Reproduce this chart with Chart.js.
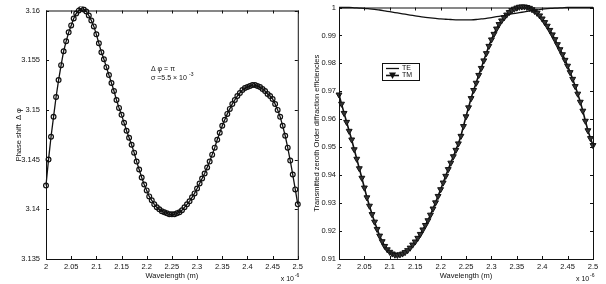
<!DOCTYPE html>
<html>
<head>
<meta charset="utf-8">
<script src="https://cdn.jsdelivr.net/npm/chart.js@4.4.0/dist/chart.umd.min.js"></script>
<style>
  html, body { margin: 0; padding: 0; background: #fff; }
  #wrap { position: relative; width: 606px; height: 284px; overflow: hidden; }
  canvas { position: absolute; top: 0; }
  #phaseChart { left: 0; }
  #effChart { left: 303px; }
</style>
</head>
<body>
<div id="wrap">
  <canvas id="phaseChart" width="306" height="284"></canvas>
  <canvas id="effChart" width="303" height="284"></canvas>
</div>
<script>
/* ===== data (wavelength in units of 1e-6 m) ===== */
const wavelength = [
  2.000, 2.005, 2.010, 2.015, 2.020, 2.025, 2.030, 2.035, 2.040, 2.045,
  2.050, 2.055, 2.060, 2.065, 2.070, 2.075, 2.080, 2.085, 2.090, 2.095,
  2.100, 2.105, 2.110, 2.115, 2.120, 2.125, 2.130, 2.135, 2.140, 2.145,
  2.150, 2.155, 2.160, 2.165, 2.170, 2.175, 2.180, 2.185, 2.190, 2.195,
  2.200, 2.205, 2.210, 2.215, 2.220, 2.225, 2.230, 2.235, 2.240, 2.245,
  2.250, 2.255, 2.260, 2.265, 2.270, 2.275, 2.280, 2.285, 2.290, 2.295,
  2.300, 2.305, 2.310, 2.315, 2.320, 2.325, 2.330, 2.335, 2.340, 2.345,
  2.350, 2.355, 2.360, 2.365, 2.370, 2.375, 2.380, 2.385, 2.390, 2.395,
  2.400, 2.405, 2.410, 2.415, 2.420, 2.425, 2.430, 2.435, 2.440, 2.445,
  2.450, 2.455, 2.460, 2.465, 2.470, 2.475, 2.480, 2.485, 2.490, 2.495,
  2.500
];

const phaseShift = [
  3.1424, 3.1450, 3.1473, 3.1493, 3.1513, 3.1530, 3.1545, 3.1559, 3.1569, 3.1578,
  3.1585, 3.1592, 3.1597, 3.1600, 3.1602, 3.1601, 3.1599, 3.1595, 3.1590, 3.1584,
  3.1576, 3.1567, 3.1558, 3.1551, 3.1543, 3.1535, 3.1527, 3.1519, 3.1510, 3.1502,
  3.1495, 3.1487, 3.1479, 3.1472, 3.1465, 3.1457, 3.1448, 3.1440, 3.1432, 3.1425,
  3.1419, 3.1413, 3.1409, 3.1405, 3.1402, 3.1400, 3.1398, 3.1397, 3.1396, 3.1395,
  3.1395, 3.1395, 3.1396, 3.1397, 3.1399, 3.1402, 3.1405, 3.1408, 3.1412, 3.1416,
  3.1421, 3.1426, 3.1431, 3.1436, 3.1442, 3.1448, 3.1455, 3.1462, 3.1470, 3.1477,
  3.1484, 3.1490, 3.1496, 3.1501, 3.1506, 3.1510, 3.1514, 3.1517, 3.1520, 3.1522,
  3.1523, 3.1524, 3.1525, 3.1525, 3.1524, 3.1523, 3.1521, 3.1519, 3.1516, 3.1514,
  3.1511, 3.1506, 3.1500, 3.1493, 3.1484, 3.1474, 3.1462, 3.1449, 3.1435, 3.1420,
  3.1405
];

const effTM = [
  0.9688, 0.9655, 0.9622, 0.9590, 0.9558, 0.9527, 0.9492, 0.9458, 0.9424, 0.9390,
  0.9355, 0.9320, 0.9290, 0.9260, 0.9233, 0.9207, 0.9183, 0.9163, 0.9146, 0.9134,
  0.9125, 0.9119, 0.9115, 0.9114, 0.9116, 0.9119, 0.9124, 0.9131, 0.9140, 0.9151,
  0.9162, 0.9175, 0.9189, 0.9205, 0.9221, 0.9238, 0.9258, 0.9280, 0.9302, 0.9325,
  0.9349, 0.9373, 0.9397, 0.9421, 0.9444, 0.9467, 0.9490, 0.9513, 0.9540, 0.9575,
  0.9610, 0.9642, 0.9675, 0.9704, 0.9730, 0.9758, 0.9783, 0.9810, 0.9836, 0.9862,
  0.9885, 0.9905, 0.9924, 0.9940, 0.9953, 0.9964, 0.9974, 0.9983, 0.9990, 0.9995,
  0.9999, 1.0002, 1.0003, 1.0003, 1.0001, 0.9998, 0.9993, 0.9987, 0.9980, 0.9971,
  0.9960, 0.9947, 0.9934, 0.9919, 0.9903, 0.9886, 0.9868, 0.9850, 0.9832, 0.9812,
  0.9791, 0.9768, 0.9744, 0.9718, 0.9691, 0.9662, 0.9630, 0.9594, 0.9560, 0.9532,
  0.9507
];

const wavelengthTE = [
  2.00, 2.01, 2.02, 2.03, 2.04, 2.05, 2.06, 2.07, 2.08, 2.09,
  2.10, 2.11, 2.12, 2.13, 2.14, 2.15, 2.16, 2.17, 2.18, 2.19,
  2.20, 2.21, 2.22, 2.23, 2.24, 2.25, 2.26, 2.27, 2.28, 2.29,
  2.30, 2.31, 2.32, 2.33, 2.34, 2.35, 2.36, 2.37, 2.38, 2.39,
  2.40, 2.41, 2.42, 2.43, 2.44, 2.45, 2.46, 2.47, 2.48, 2.49,
  2.50
];

const effTE = [
  1.0000, 1.0000, 1.0000, 0.9999, 0.9998, 0.9997, 0.9995, 0.9993, 0.9991, 0.9988,
  0.9985, 0.9982, 0.9979, 0.9976, 0.9973, 0.9970, 0.9967, 0.9965, 0.9963, 0.9961,
  0.9959, 0.9958, 0.9957, 0.9956, 0.9956, 0.9956, 0.9956, 0.9957, 0.9959, 0.9961,
  0.9964, 0.9967, 0.9970, 0.9973, 0.9977, 0.9980, 0.9983, 0.9986, 0.9989, 0.9991,
  0.9994, 0.9996, 0.9997, 0.9998, 0.9999, 1.0000, 1.0000, 1.0000, 1.0000, 1.0000,
  1.0000
];

const waveTicks = [2, 2.05, 2.1, 2.15, 2.2, 2.25, 2.3, 2.35, 2.4, 2.45, 2.5];
const phaseTicks = [3.135, 3.14, 3.145, 3.15, 3.155, 3.16];
const effTicks = [0.91, 0.92, 0.93, 0.94, 0.95, 0.96, 0.97, 0.98, 0.99, 1];

/* ===== shared bits ===== */
const FONT = "'Liberation Sans', Arial, sans-serif";
const INK = '#111';
const fmt = v => String(parseFloat(v.toFixed(4)));

// MATLAB style box with inward ticks on all four sides
const matlabFrame = {
  id: 'matlabFrame',
  afterDatasetsDraw(chart) {
    const {ctx, chartArea: a, scales} = chart;
    ctx.save();
    ctx.strokeStyle = INK;
    ctx.lineWidth = 1;
    ctx.strokeRect(a.left + 0.5, a.top + 0.5, a.right - a.left, a.bottom - a.top);
    ctx.beginPath();
    scales.x.ticks.forEach(t => {
      const px = Math.round(scales.x.getPixelForValue(t.value)) + 0.5;
      ctx.moveTo(px, a.bottom); ctx.lineTo(px, a.bottom - 3);
      ctx.moveTo(px, a.top); ctx.lineTo(px, a.top + 3);
    });
    scales.y.ticks.forEach(t => {
      const py = Math.round(scales.y.getPixelForValue(t.value)) + 0.5;
      ctx.moveTo(a.left, py); ctx.lineTo(a.left + 3, py);
      ctx.moveTo(a.right, py); ctx.lineTo(a.right - 3, py);
    });
    ctx.stroke();

    // exponent under the x axis
    ctx.fillStyle = INK;
    ctx.textBaseline = 'alphabetic';
    ctx.textAlign = 'left';
    ctx.font = `7px ${FONT}`;
    const ex = a.right - 17;
    ctx.fillText('x 10', ex, 281);
    ctx.font = `5px ${FONT}`;
    ctx.fillText('-6', ex + 14, 277);
    ctx.restore();
  }
};

function xScale() {
  return {
    type: 'linear',
    min: 2,
    max: 2.5,
    afterBuildTicks: s => { s.ticks = waveTicks.map(v => ({value: v})); },
    afterFit: s => { s.height = 25; },
    grid: {display: false, drawTicks: false},
    border: {display: false},
    ticks: {
      color: INK,
      font: {family: FONT, size: 7.5},
      padding: 3,
      maxRotation: 0,
      autoSkip: false,
      callback: v => fmt(v)
    },
    title: {
      display: true,
      text: 'Wavelength (m)',
      color: INK,
      font: {family: FONT, size: 7.5},
      padding: {top: 0, bottom: 4}
    }
  };
}

function yScale(min, max, ticks, width, pad, title, titlePad) {
  return {
    type: 'linear',
    min: min,
    max: max,
    afterBuildTicks: s => { s.ticks = ticks.map(v => ({value: v})); },
    afterFit: s => { s.width = width; },
    grid: {display: false, drawTicks: false},
    border: {display: false},
    ticks: {
      color: INK,
      font: {family: FONT, size: 7.5},
      padding: pad,
      autoSkip: false,
      callback: v => fmt(v)
    },
    title: {
      display: true,
      text: title,
      color: INK,
      font: {family: FONT, size: 7.5},
      padding: {top: titlePad, bottom: 0}
    }
  };
}

/* ===== left: phase shift ===== */
const phaseNote = {
  id: 'phaseNote',
  afterDraw(chart) {
    const ctx = chart.ctx;
    ctx.save();
    ctx.fillStyle = INK;
    ctx.textAlign = 'left';
    ctx.textBaseline = 'alphabetic';
    ctx.font = `7px ${FONT}`;
    ctx.fillText('\u0394 \u03c6 = \u03c0', 151, 71);
    ctx.fillText('\u03c3 =5.5 \u00d7 10', 151, 80);
    ctx.font = `5px ${FONT}`;
    ctx.fillText('-3', 189, 76);
    ctx.restore();
  }
};

new Chart(document.getElementById('phaseChart'), {
  type: 'line',
  data: {
    datasets: [{
      label: 'Phase shift',
      data: wavelength.map((w, i) => ({x: w, y: phaseShift[i]})),
      borderColor: INK,
      borderWidth: 1.3,
      pointStyle: 'circle',
      pointRadius: 2.4,
      pointBorderWidth: 1.2,
      pointBorderColor: INK,
      pointBackgroundColor: 'rgba(255,255,255,0)',
      tension: 0,
      clip: 4
    }]
  },
  options: {
    responsive: false,
    animation: false,
    events: [],
    layout: {padding: {left: 0, right: 8, top: 5, bottom: 0}},
    plugins: {legend: {display: false}, tooltip: {enabled: false}},
    scales: {
      x: xScale(),
      y: yScale(3.135, 3.16, phaseTicks, 46, 6, 'Phase shift  \u0394 \u03c6', 14)
    }
  },
  plugins: [matlabFrame, phaseNote]
});

/* ===== right: TE / TM efficiencies ===== */
const effLegend = {
  id: 'effLegend',
  afterDraw(chart) {
    const ctx = chart.ctx;
    const bx = 79, by = 63, bw = 37, bh = 17;
    ctx.save();
    ctx.fillStyle = '#fff';
    ctx.fillRect(bx, by, bw, bh);
    ctx.strokeStyle = INK;
    ctx.lineWidth = 1;
    ctx.strokeRect(bx + 0.5, by + 0.5, bw, bh);
    // TE
    ctx.lineWidth = 1.3;
    ctx.beginPath();
    ctx.moveTo(bx + 4, by + 5.5); ctx.lineTo(bx + 17, by + 5.5);
    ctx.stroke();
    // TM
    ctx.lineWidth = 1.6;
    ctx.beginPath();
    ctx.moveTo(bx + 4, by + 12.5); ctx.lineTo(bx + 17, by + 12.5);
    ctx.stroke();
    ctx.fillStyle = INK;
    ctx.beginPath();
    ctx.moveTo(bx + 7, by + 9.5); ctx.lineTo(bx + 14, by + 9.5); ctx.lineTo(bx + 10.5, by + 16);
    ctx.closePath();
    ctx.fill();
    ctx.font = `7px ${FONT}`;
    ctx.textAlign = 'left';
    ctx.textBaseline = 'middle';
    ctx.fillText('TE', bx + 20, by + 5.5);
    ctx.fillText('TM', bx + 20, by + 12.5);
    ctx.restore();
  }
};

new Chart(document.getElementById('effChart'), {
  type: 'line',
  data: {
    datasets: [{
      label: 'TE',
      data: wavelengthTE.map((w, i) => ({x: w, y: effTE[i]})),
      borderColor: INK,
      borderWidth: 1.3,
      pointRadius: 0,
      tension: 0.3,
      clip: 4
    }, {
      label: 'TM',
      data: wavelength.map((w, i) => ({x: w, y: effTM[i]})),
      borderColor: INK,
      borderWidth: 1.6,
      pointStyle: 'triangle',
      pointRotation: 180,
      pointRadius: 3.4,
      pointBorderWidth: 1,
      pointBorderColor: INK,
      pointBackgroundColor: '#333',
      tension: 0,
      clip: 5
    }]
  },
  options: {
    responsive: false,
    animation: false,
    events: [],
    layout: {padding: {left: 0, right: 13, top: 5, bottom: 0}},
    plugins: {legend: {display: false}, tooltip: {enabled: false}},
    scales: {
      x: xScale(),
      y: yScale(0.91, 1, effTicks, 36, 3, 'Transmitted zeroth Order diffraction efficiencies', 9)
    }
  },
  plugins: [matlabFrame, effLegend]
});
</script>
</body>
</html>
